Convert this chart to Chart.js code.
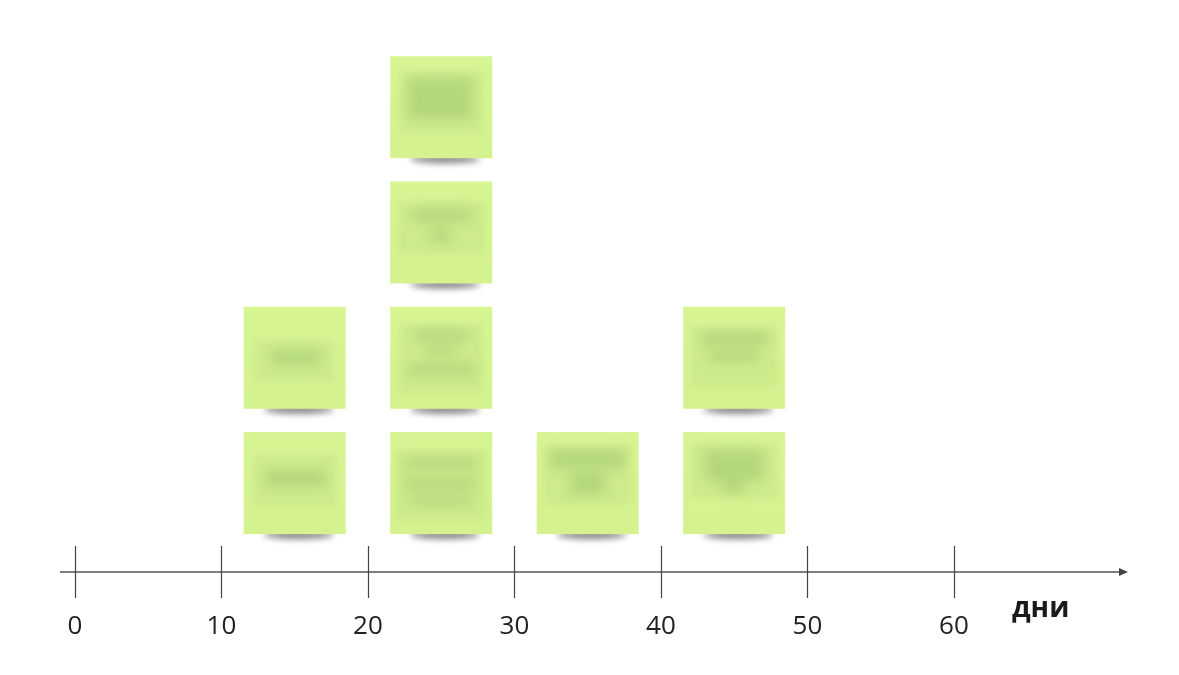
<!DOCTYPE html>
<html>
<head>
<meta charset="utf-8">
<script src="https://cdn.jsdelivr.net/npm/chart.js@4.4.1/dist/chart.umd.min.js"></script>
<style>
  html, body { margin: 0; padding: 0; background: #fff; }
  #wrap { width: 1179px; height: 675px; }
</style>
</head>
<body>
<div id="wrap"><canvas id="chart" width="1179" height="675"></canvas></div>
<script>
// histogram data: bins of 10 days, number of sticky notes per bin
const binStarts = [10, 20, 30, 40];
const binWidth = 10;
const noteCounts = [2, 4, 1, 2];
const xTicks = [0, 10, 20, 30, 40, 50, 60];
const axisTitle = 'дни';

const FONT = '"Open Sans", "Noto Sans", sans-serif';
const NOTE = 102;   // note side, px
const PAD = 14;     // room round the note for its shadow

// blurred "handwriting" on each note, just for looks
const blurVariants = [
  { band: [10, 22, 82, 52], blobs: [[22, 38, 60, 16]] },
  { band: [12, 34, 78, 40], blobs: [[28, 44, 48, 14]] },
  { band: [6, 18, 90, 70], blobs: [[14, 26, 72, 10], [14, 46, 72, 10], [20, 64, 60, 8]] },
  { band: [10, 18, 82, 68], blobs: [[24, 24, 54, 10], [36, 40, 30, 8], [18, 58, 66, 10]] },
  { band: [8, 20, 86, 52], blobs: [[22, 28, 58, 12], [40, 48, 20, 12]] },
  { band: [10, 16, 82, 60], blobs: [[18, 22, 64, 40]] },
  { band: [8, 14, 86, 58], blobs: [[14, 18, 74, 18], [34, 40, 34, 22]] },
  { band: [8, 12, 86, 54], blobs: [[22, 18, 58, 30], [40, 46, 20, 14]] },
  { band: [8, 20, 86, 60], blobs: [[18, 26, 66, 12], [26, 44, 50, 10]] }
];

function makeNote(v) {
  const c = document.createElement('canvas');
  c.width = NOTE + PAD * 2;
  c.height = NOTE + PAD * 2;
  const g = c.getContext('2d');
  // curled shadow under the bottom edge
  g.save();
  g.filter = 'blur(3px)';
  g.fillStyle = 'rgba(30,30,30,0.55)';
  g.beginPath();
  g.ellipse(PAD + NOTE / 2 + 4, PAD + NOTE + 1, NOTE / 2 - 16, 4, 0, 0, Math.PI * 2);
  g.fill();
  g.restore();
  // paper
  const grad = g.createLinearGradient(0, PAD, 0, PAD + NOTE);
  grad.addColorStop(0, '#d8f594');
  grad.addColorStop(1, '#d4f28e');
  g.fillStyle = grad;
  g.fillRect(PAD, PAD, NOTE, NOTE);
  // blurred text
  g.save();
  g.filter = 'blur(3px)';
  g.fillStyle = 'rgba(195,228,135,0.5)';
  const b = v.band;
  g.fillRect(PAD + b[0], PAD + b[1], b[2], b[3]);
  g.filter = 'blur(6px)';
  g.fillStyle = 'rgba(155,195,105,0.5)';
  v.blobs.forEach(r => g.fillRect(PAD + r[0], PAD + r[1], r[2], r[3]));
  g.restore();
  return c;
}

const points = [];
binStarts.forEach((start, i) => {
  for (let k = 0; k < noteCounts[i]; k++) {
    points.push({ x: start + binWidth / 2, y: k });
  }
});
const noteImages = points.map((p, i) => makeNote(blurVariants[i % blurVariants.length]));

// axis line with arrow, tick marks crossing it, and the axis title
const axisPlugin = {
  id: 'axisPlugin',
  afterDraw(chart) {
    const ctx = chart.ctx;
    const area = chart.chartArea;
    const x = chart.scales.x;
    const y0 = area.bottom;
    ctx.save();
    ctx.strokeStyle = '#555';
    ctx.lineWidth = 1.5;
    ctx.beginPath();
    ctx.moveTo(area.left + 3, y0);
    ctx.lineTo(area.right - 6, y0);
    ctx.stroke();
    ctx.fillStyle = '#444';
    ctx.beginPath();
    ctx.moveTo(area.right, y0);
    ctx.lineTo(area.right - 9, y0 - 4);
    ctx.lineTo(area.right - 9, y0 + 4);
    ctx.closePath();
    ctx.fill();
    ctx.strokeStyle = '#444';
    ctx.lineWidth = 1.2;
    xTicks.forEach(v => {
      const px = Math.round(x.getPixelForValue(v)) + 0.5;
      ctx.beginPath();
      ctx.moveTo(px, y0 - 26);
      ctx.lineTo(px, y0 + 26);
      ctx.stroke();
    });
    ctx.fillStyle = '#1a1a1a';
    ctx.font = 'bold 28px ' + FONT;
    ctx.textAlign = 'left';
    ctx.textBaseline = 'alphabetic';
    ctx.fillText(axisTitle, 1012, 617);
    ctx.restore();
  }
};

new Chart(document.getElementById('chart'), {
  type: 'scatter',
  data: {
    datasets: [{
      data: points,
      pointStyle: noteImages,
      pointRadius: 50,
      pointHoverRadius: 50
    }]
  },
  options: {
    responsive: false,
    animation: false,
    events: [],
    layout: { padding: { left: 57, right: 46, top: 20, bottom: 0 } },
    plugins: { legend: { display: false }, tooltip: { enabled: false } },
    scales: {
      x: {
        type: 'linear',
        min: -1.22,
        max: 71.88,
        grid: { display: false, drawTicks: false },
        border: { display: false },
        afterBuildTicks: s => { s.ticks = xTicks.map(v => ({ value: v })); },
        afterFit: s => { s.height = 103; },
        ticks: {
          padding: 39,
          autoSkip: false,
          maxRotation: 0,
          color: '#222',
          font: { family: FONT, size: 26 }
        }
      },
      y: {
        display: false,
        min: -0.71,
        max: 3.448
      }
    }
  },
  plugins: [axisPlugin]
});
</script>
</body>
</html>
